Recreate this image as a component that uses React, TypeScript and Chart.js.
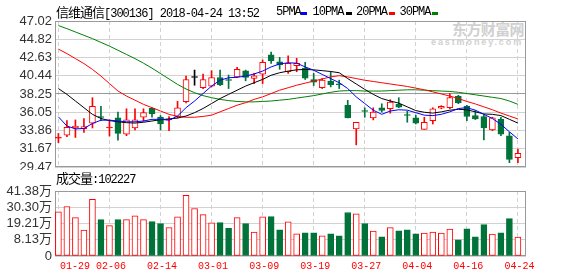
import React, { useEffect, useRef } from 'react';
import { Chart, registerables } from 'chart.js';

Chart.register(...registerables);

// ---------- data ----------
const dates = [
  '01-29', '01-30', '01-31', '02-01', '02-02', '02-05', '02-06', '02-07', '02-08', '02-09', '02-12', '02-13', '02-14',
  '02-22', '02-23', '02-26', '02-27', '02-28', '03-01',
  '03-02', '03-05', '03-06', '03-07', '03-08', '03-09',
  '03-12', '03-13', '03-14', '03-15', '03-16', '03-19',
  '03-20', '03-21', '03-22', '03-23', '03-26', '03-27',
  '03-28', '03-29', '03-30', '04-02', '04-03', '04-04',
  '04-09', '04-10', '04-11', '04-12', '04-13', '04-16',
  '04-17', '04-18', '04-19', '04-20', '04-23', '04-24',
];

const openP = [
  32.95, 33.31, 34.16, 34.08, 34.73, 35.54, 34.16, 35.37, 33.43, 34.16, 35.45, 36.51, 35.46, 35.12, 35.54, 37.32, 40.23, 39.02, 39.18,
  40.23, 39.91, 40.31, 41.04, 40.11, 40.64, 42.95, 42.10, 40.92, 41.65, 41.37, 39.99, 39.02, 39.79, 39.40, 36.87, 34.04, 36.18,
  35.37, 36.59, 36.47, 36.99, 35.70, 35.37, 34.00, 35.05, 36.55, 36.59, 37.97, 36.79, 35.66, 35.54, 33.92, 35.21, 33.23, 30.60,
];
const highP = [
  33.50, 35.05, 35.13, 35.29, 37.80, 36.75, 35.13, 36.06, 36.47, 36.47, 36.47, 36.59, 35.66, 35.54, 37.36, 40.40, 41.12, 40.64, 41.04,
  41.12, 40.52, 41.45, 41.12, 40.72, 42.34, 43.27, 42.66, 42.83, 42.54, 42.06, 40.72, 40.11, 40.92, 39.91, 37.48, 34.85, 36.59,
  36.59, 37.07, 37.56, 37.80, 36.18, 35.70, 35.45, 36.59, 36.85, 38.29, 38.09, 36.87, 36.26, 35.78, 35.45, 35.45, 33.63, 31.61,
];
const lowP = [
  32.40, 33.11, 33.02, 33.63, 34.16, 35.05, 33.19, 32.70, 33.23, 33.92, 34.97, 35.46, 33.92, 33.83, 35.37, 37.16, 39.30, 38.90, 39.10,
  39.26, 38.90, 40.23, 39.83, 39.50, 39.50, 41.93, 41.21, 40.72, 40.92, 39.99, 39.26, 38.90, 39.10, 38.90, 35.37, 32.13, 35.45,
  35.13, 36.06, 35.94, 36.59, 34.85, 34.64, 34.00, 34.64, 36.47, 36.47, 37.08, 35.05, 35.17, 32.74, 33.83, 33.23, 29.99, 29.99,
];
const closeP = [
  32.97, 34.24, 34.40, 34.32, 36.75, 35.42, 34.20, 33.51, 35.13, 35.13, 36.02, 35.86, 34.64, 35.14, 36.59, 39.99, 40.23, 39.99, 40.23,
  39.38, 39.87, 41.21, 40.23, 40.44, 42.06, 42.26, 41.73, 41.93, 41.93, 40.15, 39.67, 39.91, 39.38, 39.36, 35.37, 34.85, 36.14,
  36.06, 36.26, 37.28, 36.67, 35.66, 34.73, 34.85, 36.47, 36.75, 37.80, 37.16, 35.54, 35.25, 34.16, 35.37, 33.43, 30.39, 31.12,
];
// volume, in 万手, as read on the volume axis
const volume = [
  27.18, 30.83, 23.25, 14.77, 35.66, 21.87, 17.74, 21.87, 21.87, 24.42, 21.87, 20.49, 19.12, 16.36, 23.73, 38.42, 29.45, 25.32, 19.60,
  19.81, 15.88, 23.25, 19.12, 13.40, 23.73, 23.94, 14.98, 20.29, 12.22, 12.91, 12.91, 10.84, 12.22, 10.84, 26.70, 25.80, 19.12,
  14.08, 10.16, 16.36, 14.29, 14.98, 12.22, 12.70, 13.40, 12.70, 15.46, 8.09, 15.67, 10.16, 18.43, 12.02, 12.91, 22.56, 9.95,
];
const ma5 = [
  35.5, 34.4, 34.05, 34.1, 34.7, 35.1, 35.1, 35.0, 34.9, 34.9, 35.0, 35.2, 35.2, 35.1, 35.6, 36.6, 37.4, 38.3, 39.2,
  39.9, 40.2, 40.25, 40.4, 40.65, 41.0, 41.5, 41.85, 42.0, 41.95, 41.5, 41.1, 40.6, 40.1, 39.6, 38.9, 37.9, 37.1,
  36.3, 35.8, 36.2, 36.35, 36.3, 36.0, 35.7, 35.65, 35.8, 36.1, 36.5, 36.6, 36.3, 35.8, 35.3, 34.6, 33.7, 32.85,
];
const ma10 = [
  38.9, 38.2, 37.4, 36.6, 35.8, 35.3, 35.05, 34.9, 34.8, 34.75, 34.85, 35.0, 35.15, 35.25, 35.35, 35.6, 36.0, 36.5, 37.1,
  37.7, 38.2, 38.7, 39.2, 39.6, 40.0, 40.5, 40.8, 41.0, 41.15, 41.2, 41.15, 41.05, 40.95, 40.8, 40.1, 39.45, 38.8,
  38.2, 37.7, 37.4, 37.15, 36.7, 36.25, 36.05, 35.95, 36.1, 36.3, 36.4, 36.35, 36.1, 35.85, 35.8, 35.65, 35.2, 34.75,
];
const ma20 = [
  43.64, 43.1, 42.5, 41.9, 41.2, 40.4, 39.5, 38.6, 38.0, 37.5, 37.0, 36.6, 36.2, 35.8, 35.55, 35.45, 35.45, 35.55, 35.7,
  36.1, 36.5, 36.9, 37.2, 37.6, 37.9, 38.3, 38.7, 39.0, 39.3, 39.55, 39.8, 40.05, 40.3, 40.45, 40.3, 40.1, 39.9,
  39.75, 39.6, 39.45, 39.3, 39.15, 38.95, 38.75, 38.5, 38.25, 38.0, 37.7, 37.35, 37.05, 36.7, 36.35, 35.95, 35.6, 35.25,
];
const ma30 = [
  46.47, 46.1, 45.7, 45.3, 44.9, 44.45, 44.0, 43.5, 43.0, 42.5, 41.95, 41.35, 40.7, 40.05, 39.4, 38.85, 38.4, 38.05, 37.8,
  37.6, 37.45, 37.35, 37.3, 37.3, 37.35, 37.4, 37.5, 37.6, 37.75, 37.9, 38.05, 38.25, 38.45, 38.6, 38.65, 38.65, 38.6,
  38.6, 38.6, 38.65, 38.7, 38.75, 38.75, 38.7, 38.65, 38.6, 38.55, 38.45, 38.3, 38.15, 38.0, 37.85, 37.7, 37.4, 37.0,
];

const priceTicks = [29.47, 31.67, 33.86, 36.05, 38.25, 40.44, 42.63, 44.82, 47.02];
const priceTickLabels = ['29.47', '31.67', '33.86', '36.05', '38.25', '40.44', '42.63', '44.82', '47.02'];
const volAxisMin = -2.94;
const volTicks = [volAxisMin, 8.13, 19.21, 30.30, 41.38];
const volTickLabels = ['0', '8.13万', '19.21万', '30.30万', '41.38万'];
const dateTickIdx = [0, 6, 12, 18, 24, 30, 36, 42, 48, 54];

// ---------- style ----------
const RED = '#ff0000';
const GREEN = '#00733a';
const GRID = '#d2d2d2';
const FRAME = '#999999';
const X_MIN = -0.4;
const X_MAX = 54.95;
const AXIS_FONT = "'Liberation Sans', 'Noto Sans CJK SC', sans-serif";

const candleColor = (i: number) =>
  closeP[i] > openP[i] ? RED : closeP[i] < openP[i] ? GREEN : '#000000';

const framePlugin = {
  id: 'frame',
  beforeDatasetsDraw(chart: any) {
    const { ctx, chartArea: a } = chart;
    ctx.save();
    ctx.strokeStyle = FRAME;
    ctx.lineWidth = 1;
    const l = Math.round(a.left) + 0.5;
    const t = Math.round(a.top) + 0.5;
    const r = Math.round(a.right) - 0.5;
    const b = Math.round(a.bottom) - 0.5;
    ctx.strokeRect(l, t, r - l, b - t);
    ctx.restore();
  },
};

function xScale(showLabels: boolean): any {
  return {
    type: 'linear',
    min: X_MIN,
    max: X_MAX,
    offset: false,
    afterBuildTicks: (s: any) => {
      s.ticks = [...dateTickIdx.map((v) => ({ value: v })), { value: X_MAX }];
    },
    afterFit: (s: any) => {
      s.height = showLabels ? 20 : 0;
      s.paddingLeft = 0;
      s.paddingRight = 0;
    },
    grid: {
      offset: false,
      drawTicks: false,
      lineWidth: 1,
      color: (ctx: any) => (ctx.tick && ctx.tick.value === X_MAX ? 'rgba(0,0,0,0)' : GRID),
    },
    border: { display: false, dash: [4, 3] },
    ticks: {
      display: showLabels,
      autoSkip: false,
      maxRotation: 0,
      minRotation: 0,
      align: 'inner',
      padding: 4,
      labelOffset: 1.5,
      color: RED,
      font: { family: "'Liberation Mono', monospace", size: 10 },
      callback: (v: number) => (v === X_MAX ? '' : dates[v]),
    },
  };
}

function yScale(min: number, max: number, ticks: number[], labels: string[], midDark: boolean): any {
  return {
    type: 'linear',
    min,
    max,
    afterBuildTicks: (s: any) => {
      s.ticks = ticks.map((v) => ({ value: v }));
    },
    afterFit: (s: any) => {
      s.width = 55;
      s.paddingTop = 0;
      s.paddingBottom = 0;
    },
    grid: {
      drawTicks: false,
      lineWidth: 1,
      color: (ctx: any) => (midDark && ctx.index === 4 ? FRAME : GRID),
    },
    border: { display: false },
    ticks: {
      autoSkip: false,
      padding: 3,
      color: '#333333',
      font: { family: AXIS_FONT, size: 13 },
      callback: (_v: number, i: number) => labels[i],
    },
  };
}

export default function App() {
  const priceRef = useRef<HTMLCanvasElement>(null);
  const volRef = useRef<HTMLCanvasElement>(null);

  useEffect(() => {
    const idx = dates.map((_, i) => i);
    const line = (data: number[], color: string) => ({
      type: 'line',
      data: data.map((v, i) => ({ x: i, y: v })),
      borderColor: color,
      borderWidth: 1,
      pointRadius: 0,
      tension: 0,
      fill: false,
      order: 0,
    });

    const price = new Chart(priceRef.current as HTMLCanvasElement, {
      type: 'bar',
      data: {
        datasets: [
          line(ma5, '#0000ff'),
          line(ma10, '#000000'),
          line(ma20, RED),
          line(ma30, '#008000'),
          {
            type: 'bar',
            data: idx.map((i) => ({ x: i, y: [Math.min(openP[i], closeP[i]), Math.max(openP[i], closeP[i])] })),
            backgroundColor: idx.map((i) => {
              const c = candleColor(i);
              if (Math.abs(closeP[i] - openP[i]) < 0.06) return c;
              return closeP[i] > openP[i] ? '#ffffff' : c;
            }),
            borderColor: idx.map((i) => candleColor(i)),
            borderWidth: 1,
            borderSkipped: false,
            barThickness: 6,
            minBarLength: 1,
            grouped: false,
            order: 1,
          },
          {
            type: 'bar',
            data: idx.map((i) => ({ x: i, y: [lowP[i], highP[i]] })),
            backgroundColor: idx.map((i) => candleColor(i)),
            borderWidth: 0,
            barThickness: 1,
            grouped: false,
            order: 2,
          },
        ] as any,
      },
      options: {
        responsive: false,
        maintainAspectRatio: false,
        animation: false,
        events: [],
        layout: { padding: { top: 21, bottom: 3, left: 0, right: 52 } },
        plugins: { legend: { display: false }, tooltip: { enabled: false }, title: { display: false } },
        scales: {
          x: xScale(false),
          y: yScale(29.47, 47.02, priceTicks, priceTickLabels, true),
        },
      } as any,
      plugins: [framePlugin],
    });

    const vol = new Chart(volRef.current as HTMLCanvasElement, {
      type: 'bar',
      data: {
        datasets: [
          {
            type: 'bar',
            data: idx.map((i) => ({ x: i, y: volume[i] })),
            base: volAxisMin,
            backgroundColor: idx.map((i) => (closeP[i] >= openP[i] ? '#ffffff' : GREEN)),
            borderColor: idx.map((i) => (closeP[i] >= openP[i] ? RED : GREEN)),
            borderWidth: 1,
            borderSkipped: false,
            barThickness: 6,
          },
        ] as any,
      },
      options: {
        responsive: false,
        maintainAspectRatio: false,
        animation: false,
        events: [],
        layout: { padding: { top: 6, bottom: 0, left: 0, right: 52 } },
        plugins: { legend: { display: false }, tooltip: { enabled: false }, title: { display: false } },
        scales: {
          x: xScale(true),
          y: yScale(volAxisMin, 41.38, volTicks, volTickLabels, false),
        },
      } as any,
      plugins: [framePlugin],
    });

    return () => {
      price.destroy();
      vol.destroy();
    };
  }, []);

  const mono: React.CSSProperties = {
    fontFamily: "'Liberation Mono', monospace",
    fontSize: 12,
    letterSpacing: -1.0,
  };
  const cjk: React.CSSProperties = {
    fontFamily: "'Noto Sans CJK SC', sans-serif",
    fontSize: 13,
    letterSpacing: -1,
  };
  const legendItems = [
    { label: '5PMA', x: 276, sq: 301, color: '#0000ff' },
    { label: '10PMA', x: 312.5, sq: 346, color: '#000000' },
    { label: '20PMA', x: 356, sq: 389, color: RED },
    { label: '30PMA', x: 399.5, sq: 431.5, color: '#008000' },
  ];

  return (
    <div style={{ position: 'absolute', left: 0, top: 0, width: 578, height: 276, background: '#fff', overflow: 'hidden' }}>
      {/* watermark */}
      <div
        style={{
          position: 'absolute', left: 452, top: 20, fontFamily: "'Noto Sans CJK SC', sans-serif", fontWeight: 700,
          fontSize: 15, lineHeight: '18px', color: '#d0d0d0', letterSpacing: -0.6, whiteSpace: 'nowrap', zIndex: 0,
        }}
      >
        东方财富网
      </div>
      <div
        style={{
          position: 'absolute', left: 431, top: 37, fontFamily: "'Liberation Sans', sans-serif", fontWeight: 700,
          fontSize: 9, lineHeight: '10px', color: '#d0d0d0', letterSpacing: 1.9, whiteSpace: 'nowrap', zIndex: 0,
        }}
      >
        eastmoney.com
      </div>

      <canvas ref={priceRef} width={578} height={170} style={{ position: 'absolute', left: 0, top: 0, zIndex: 1 }} />
      <canvas ref={volRef} width={578} height={91} style={{ position: 'absolute', left: 0, top: 185, zIndex: 1 }} />

      {/* title */}
      <div style={{ position: 'absolute', left: 56, top: 3, lineHeight: '17px', whiteSpace: 'nowrap', color: '#000', zIndex: 2 }}>
        <span style={cjk}>信维通信</span>
        <span style={mono}>[300136] 2018-04-24 13:52</span>
      </div>

      {/* legend */}
      {legendItems.map((it) => (
        <React.Fragment key={it.label}>
          <div style={{ position: 'absolute', left: it.x, top: 4, lineHeight: '17px', whiteSpace: 'nowrap', color: '#000', zIndex: 2, ...mono }}>
            {it.label}
          </div>
          <div style={{ position: 'absolute', left: it.sq, top: 12, width: 6, height: 3, background: it.color, zIndex: 2 }} />
        </React.Fragment>
      ))}

      {/* volume label */}
      <div style={{ position: 'absolute', left: 56, top: 169, lineHeight: '17px', whiteSpace: 'nowrap', color: '#000', zIndex: 2 }}>
        <span style={cjk}>成交量</span>
        <span style={mono}>:102227</span>
      </div>
    </div>
  );
}
